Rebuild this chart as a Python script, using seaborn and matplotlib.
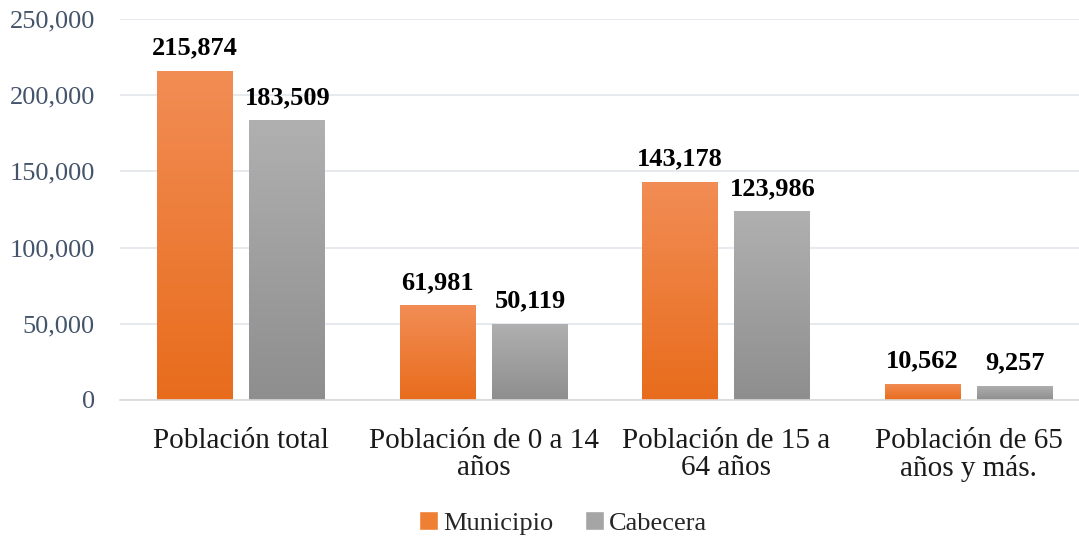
import numpy as np
import pandas as pd
import matplotlib
matplotlib.use("Agg")
import matplotlib.pyplot as plt
import matplotlib.colors as mcolors
from matplotlib.patches import Patch
from matplotlib.ticker import FuncFormatter
import seaborn as sns

# data
categories = ["Población total", "Población de 0 a 14\naños",
              "Población de 15 a\n64 años", "Población de 65\naños y más."]
municipio = [215874, 61981, 143178, 10562]
cabecera = [183509, 50119, 123986, 9257]
series = ["Municipio", "Cabecera"]

df = pd.DataFrame({
    "categoria": categories * 2,
    "valor": municipio + cabecera,
    "serie": [series[0]] * 4 + [series[1]] * 4,
})

sns.set_theme(style="white")
plt.rcParams["font.family"] = ["Liberation Serif", "DejaVu Serif"]

fig = plt.figure(figsize=(10.79, 5.39), dpi=100)
# plot area runs a bit past the right edge of the figure, like the original
ax = fig.add_axes([0.1112, 0.258, 0.899, 0.707])

palette = {"Municipio": "#F0832F", "Cabecera": "#A0A0A0"}
sns.barplot(data=df, x="categoria", y="valor", hue="serie", palette=palette,
            width=0.762, gap=0.178, ax=ax, legend=False, saturation=1)

# gradient fill for each bar
grads = {
    "Municipio": ("#F28D55", "#E86C1C"),
    "Cabecera": ("#B0B0B0", "#8E8E8E"),
}
for container, name in zip(ax.containers, series):
    top, bottom = grads[name]
    cmap = mcolors.LinearSegmentedColormap.from_list(name, [bottom, top])
    grad = np.linspace(0, 1, 256).reshape(-1, 1)
    for bar in container:
        x0, y0 = bar.get_x(), bar.get_y()
        w, h = bar.get_width(), bar.get_height()
        bar.set_facecolor("none")
        bar.set_edgecolor("none")
        im = ax.imshow(grad, cmap=cmap, origin="lower", aspect="auto",
                       extent=[x0, x0 + w, y0, y0 + h], zorder=2)
        im.set_clip_path(bar)
    ax.bar_label(container, labels=[f"{v:,.0f}" for v in container.datavalues],
                 padding=8, fontsize=19, fontweight="bold", color="black")

ax.set_xlim(-0.5, 3.5)
ax.set_ylim(0, 250000)
ax.set_yticks(np.arange(0, 250001, 50000))
ax.yaxis.set_major_formatter(FuncFormatter(lambda v, p: f"{v:,.0f}"))
ax.grid(axis="y", color="#E1E5EA", linewidth=1.2, zorder=0)
ax.set_axisbelow(True)
for s in ["top", "right", "left"]:
    ax.spines[s].set_visible(False)
ax.spines["bottom"].set_color("#D9D9D9")
ax.spines["bottom"].set_linewidth(1.2)
ax.tick_params(axis="y", labelsize=19, labelcolor="#44546A", length=0, pad=18)
ax.tick_params(axis="x", labelsize=21, labelcolor="#1A1A1A", length=0, pad=20)
for lbl in ax.get_xticklabels():
    lbl.set_linespacing(1.05)
ax.set_xlabel("")
ax.set_ylabel("")

handles = [Patch(facecolor="#EF7F33", label="Municipio"),
           Patch(facecolor="#A5A5A5", label="Cabecera")]
fig.legend(handles=handles, loc="center", bbox_to_anchor=(0.522, 0.03), ncol=2,
           frameon=False, fontsize=19, handlelength=0.7, handleheight=0.7,
           handletextpad=0.2, columnspacing=1.2)

fig.savefig("out.png", dpi=100)
